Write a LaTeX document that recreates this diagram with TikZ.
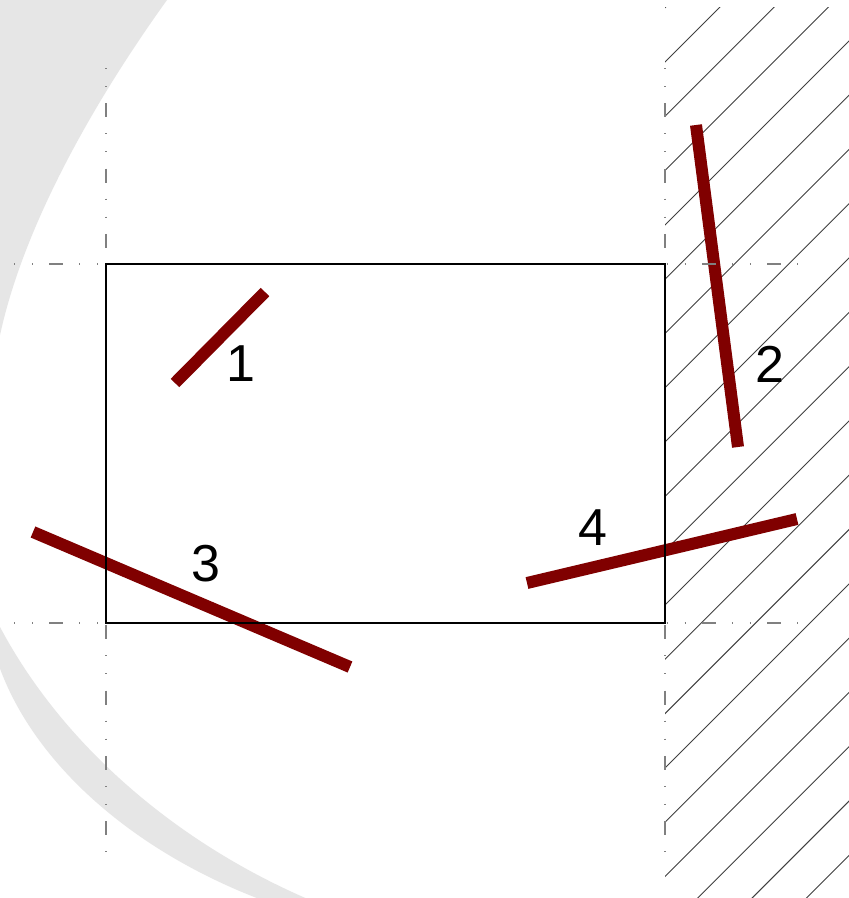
\documentclass[tikz,border=0pt]{standalone}
\usepackage{fontspec}
\setmainfont{Liberation Sans}
\definecolor{barred}{HTML}{800000}
\definecolor{swoosh}{HTML}{E6E6E6}
\definecolor{axisgray}{HTML}{808080}
\begin{document}
\begin{tikzpicture}[x=1pt,y=-1pt,
  bar/.style={line width=12pt, draw=barred, line cap=butt},
  axisline/.style={draw=axisgray, line width=1.6pt, dash pattern=on 1pt off 17pt on 1pt off 16.25pt on 14pt off 16pt},
  hatchline/.style={line width=0.9pt, draw=black!75},
  frame/.style={line width=2pt, draw=black},
  lbl/.style={inner sep=0pt, font=\fontsize{52}{60}\selectfont}]
\useasboundingbox (0,0) rectangle (849,898);
\fill[white] (0,0) rectangle (849,898);
% background swoosh
\begin{scope}
\clip (0,0) rectangle (849,898);
\fill[swoosh] (-5,-5) -- (170,-5) -- (167,0) .. controls (95,100) and (20,230) .. (-2,345) -- cycle;
\fill[swoosh] (0,627) .. controls (60,740) and (170,840) .. (310,900) -- (262,900)
  .. controls (130,850) and (30,760) .. (-3,660) -- cycle;
\end{scope}
% hatching
\begin{scope}
\clip (665,7) rectangle (849,898);
\foreach \k in {-4,...,20} {
  \draw[hatchline] (600,{62+54.3*\k+65}) -- ++(350,-350);
}
\end{scope}
% bars
\coordinate (b1s) at (175,383); \coordinate (b1e) at (265,292);
\coordinate (b2s) at (696,125); \coordinate (b2e) at (738,447);
\coordinate (b3s) at (33,532);  \coordinate (b3e) at (350,667);
\coordinate (b4s) at (527,583); \coordinate (b4e) at (797,519);
\draw[bar] (b1s) -- (b1e);
\draw[bar] (b2s) -- (b2e);
\draw[bar] (b3s) -- (b3e);
\draw[bar] (b4s) -- (b4e);
% dash-dot axis lines
\coordinate (vl1) at (106,68); \coordinate (vl2) at (106,855);
\coordinate (vr1) at (665,68); \coordinate (vr2) at (665,855);
\coordinate (ht1) at (14,264); \coordinate (ht2) at (800,264);
\coordinate (hb1) at (14,623); \coordinate (hb2) at (800,623);
\draw[axisline] (vl1) -- (vl2);
\draw[axisline] (vr1) -- (vr2);
\draw[axisline] (ht1) -- (ht2);
\draw[axisline] (hb1) -- (hb2);
% rectangle
\draw[frame] (106,264) rectangle (665,623);
% labels
\node[lbl] (l1) at (241,364) {1};
\node[lbl] (l2) at (770,364) {2};
\node[lbl] (l3) at (206,564) {3};
\node[lbl] (l4) at (593,528) {4};
\end{tikzpicture}
\end{document}
